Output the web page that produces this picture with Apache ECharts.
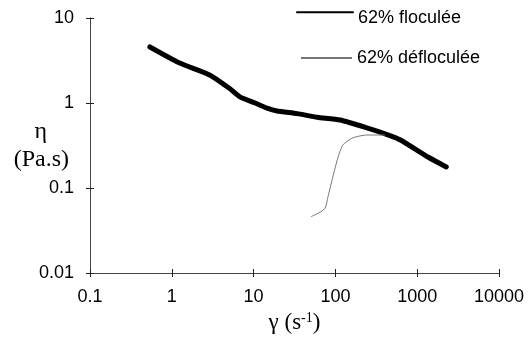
<!DOCTYPE html>
<html>
<head>
<meta charset="utf-8">
<script src="https://cdn.jsdelivr.net/npm/echarts@6/dist/echarts.min.js"></script>
<style>html,body{margin:0;padding:0;background:#fff;}#c{width:530px;height:345px;}</style>
</head>
<body>
<div id="c"></div>
<script>
var xTicks = [0.1, 1, 10, 100, 1000, 10000];
var yTicks = [0.01, 0.1, 1, 10];
var flocShear = [0.54, 1.25, 2.9, 5.0, 6.8, 10.4, 14.6, 19.3, 34, 60, 114, 243, 447, 617, 1370, 2270];
var flocVisc  = [4.56, 2.95, 2.14, 1.5, 1.18, 1.0, 0.87, 0.805, 0.75, 0.68, 0.63, 0.51, 0.42, 0.37, 0.23, 0.177];
var deflShear = [50.3, 65, 75, 81, 93, 107, 123, 164, 243, 351, 404];
var deflVisc  = [0.046, 0.052, 0.058, 0.078, 0.135, 0.225, 0.32, 0.39, 0.42, 0.42, 0.42];
var seriesNames = ['62% floculée', '62% défloculée'];

function pairs(xs, ys) { return xs.map(function (x, i) { return [x, ys[i]]; }); }

var chart = echarts.init(document.getElementById('c'), null, {renderer: 'canvas'});
var labelFont = {color: '#000', fontFamily: 'Liberation Sans, Arial, sans-serif', fontSize: 18};
var axisLine = {show: true, lineStyle: {color: '#444', width: 1}};
function fmt(v) { return String(+(+v).toPrecision(3)); }
function baseX(inside, show) {
  return {
    type: 'log', logBase: 10, min: 0.1, max: 10000, position: 'bottom', gridIndex: 0,
    axisLine: axisLine, splitLine: {show: false},
    axisTick: {show: true, inside: inside, length: 4, lineStyle: {color: '#222'}},
    axisLabel: show ? Object.assign({margin: 15, formatter: fmt}, labelFont) : {show: false}
  };
}
function baseY(inside, show) {
  return {
    type: 'log', logBase: 10, min: 0.01, max: 10, position: 'left', gridIndex: 0,
    axisLine: axisLine, splitLine: {show: false},
    axisTick: {show: true, inside: inside, length: 4, lineStyle: {color: '#222'}},
    axisLabel: show ? Object.assign({margin: 16, formatter: fmt}, labelFont) : {show: false}
  };
}
var serif = 'Liberation Serif, Times New Roman, serif';
var x0 = baseX(false, true);
x0.name = '{n|γ (s}{s|-1}{n|)}';
x0.nameLocation = 'middle';
x0.nameGap = 38;
x0.nameMoveOverlap = false;
x0.nameTextStyle = {rich: {
  n: {fontFamily: serif, fontSize: 23, color: '#000'},
  s: {fontFamily: serif, fontSize: 14, color: '#000', verticalAlign: 'top'}
}};
var y0 = baseY(false, true);
y0.name = '{a|η}\n{b|(Pa.s)}';
y0.nameLocation = 'middle';
y0.nameRotate = 0;
y0.nameGap = 21;
y0.nameMoveOverlap = false;
y0.nameTextStyle = {rich: {
  a: {fontFamily: serif, fontSize: 24, color: '#000', lineHeight: 28, padding: [0, 22, 0, 0]},
  b: {fontFamily: serif, fontSize: 24, color: '#000', lineHeight: 28}
}};

var legendText = {color: '#000', fontFamily: 'Liberation Sans, Arial, sans-serif', fontSize: 18};
chart.setOption({
  animation: false,
  backgroundColor: '#fff',
  grid: {left: 90, right: 31, top: 18, bottom: 72, containLabel: false, outerBoundsMode: 'none'},
  legend: [
    {data: [seriesNames[0]], left: 291, top: 0, itemWidth: 56, itemHeight: 18,
     itemStyle: {opacity: 0},
     formatter: '{t|{name}}',
     textStyle: Object.assign({rich: {t: Object.assign({padding: [12, 0, 0, 0]}, legendText)}}, legendText)},
    {data: [seriesNames[1]], left: 295, top: 44, itemWidth: 51, itemHeight: 18,
     itemStyle: {opacity: 0},
     textStyle: legendText}
  ],
  xAxis: [x0, baseX(true, false)],
  yAxis: [y0, baseY(true, false)],
  series: [
    {name: seriesNames[0], type: 'line', xAxisIndex: 0, yAxisIndex: 0, data: pairs(flocShear, flocVisc),
     smooth: 0.2, showSymbol: false, symbol: 'none',
     lineStyle: {color: '#000', width: 5, cap: 'round', join: 'round'}, itemStyle: {color: '#000'}},
    {name: seriesNames[1], type: 'line', xAxisIndex: 0, yAxisIndex: 0, data: pairs(deflShear, deflVisc),
     smooth: 0.2, showSymbol: false, symbol: 'none',
     lineStyle: {color: '#777', width: 1}, itemStyle: {color: '#777'}}
  ]
});
</script>
</body>
</html>
